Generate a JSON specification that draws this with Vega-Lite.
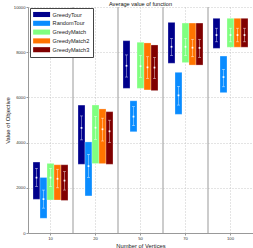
{
  "$schema": "https://vega.github.io/schema/vega-lite/v6.json",
  "autosize": "none",
  "width": 225,
  "height": 226,
  "padding": {"left": 28, "top": 7, "right": 0, "bottom": 15},
  "config": {
    "font": "Liberation Sans",
    "view": {"stroke": null},
    "axis": {"labelFont": "Liberation Sans", "titleFont": "Liberation Sans"}
  },
  "title": {"text": "Average value of function", "fontSize": 5.6, "fontWeight": "normal", "color": "#111", "offset": 0, "dy": 3, "font": "Liberation Sans"},
  "datasets": {
    "stats": [
      {"n": "10", "alg": "GreedyTour", "min": 1490, "max": 3140, "mean": 2450, "lo": 2060, "hi": 2860},
      {"n": "10", "alg": "RandomTour", "min": 650, "max": 2460, "mean": 1500, "lo": 1100, "hi": 1900},
      {"n": "10", "alg": "GreedyMatch", "min": 1460, "max": 3080, "mean": 2450, "lo": 2050, "hi": 2860},
      {"n": "10", "alg": "GreedyMatch2", "min": 1460, "max": 3020, "mean": 2400, "lo": 2000, "hi": 2820},
      {"n": "10", "alg": "GreedyMatch3", "min": 1440, "max": 3020, "mean": 2320, "lo": 1900, "hi": 2720},
      {"n": "20", "alg": "GreedyTour", "min": 3040, "max": 5660, "mean": 4650, "lo": 4120, "hi": 5180},
      {"n": "20", "alg": "RandomTour", "min": 1640, "max": 4030, "mean": 2960, "lo": 2460, "hi": 3480},
      {"n": "20", "alg": "GreedyMatch", "min": 3070, "max": 5660, "mean": 4660, "lo": 4140, "hi": 5160},
      {"n": "20", "alg": "GreedyMatch2", "min": 3070, "max": 5490, "mean": 4590, "lo": 4070, "hi": 5080},
      {"n": "20", "alg": "GreedyMatch3", "min": 3040, "max": 5370, "mean": 4500, "lo": 4000, "hi": 4990},
      {"n": "50", "alg": "GreedyTour", "min": 6400, "max": 8510, "mean": 7400, "lo": 6900, "hi": 7880},
      {"n": "50", "alg": "RandomTour", "min": 4480, "max": 5850, "mean": 5150, "lo": 4750, "hi": 5590},
      {"n": "50", "alg": "GreedyMatch", "min": 6400, "max": 8440, "mean": 7380, "lo": 6890, "hi": 7850},
      {"n": "50", "alg": "GreedyMatch2", "min": 6330, "max": 8410, "mean": 7330, "lo": 6840, "hi": 7800},
      {"n": "50", "alg": "GreedyMatch3", "min": 6300, "max": 8320, "mean": 7320, "lo": 6830, "hi": 7770},
      {"n": "70", "alg": "GreedyTour", "min": 7510, "max": 9320, "mean": 8240, "lo": 7850, "hi": 8610},
      {"n": "70", "alg": "RandomTour", "min": 5250, "max": 7110, "mean": 6090, "lo": 5660, "hi": 6490},
      {"n": "70", "alg": "GreedyMatch", "min": 7540, "max": 9290, "mean": 8240, "lo": 7850, "hi": 8610},
      {"n": "70", "alg": "GreedyMatch2", "min": 7430, "max": 9290, "mean": 8200, "lo": 7800, "hi": 8570},
      {"n": "70", "alg": "GreedyMatch3", "min": 7430, "max": 9290, "mean": 8190, "lo": 7770, "hi": 8570},
      {"n": "100", "alg": "GreedyTour", "min": 8170, "max": 9500, "mean": 8760, "lo": 8460, "hi": 9060},
      {"n": "100", "alg": "RandomTour", "min": 6210, "max": 7830, "mean": 6900, "lo": 6470, "hi": 7240},
      {"n": "100", "alg": "GreedyMatch", "min": 8220, "max": 9500, "mean": 8760, "lo": 8460, "hi": 9060},
      {"n": "100", "alg": "GreedyMatch2", "min": 8220, "max": 9500, "mean": 8760, "lo": 8460, "hi": 9060},
      {"n": "100", "alg": "GreedyMatch3", "min": 8220, "max": 9500, "mean": 8760, "lo": 8460, "hi": 9060}
    ],
    "seps": [{"n": "20"}, {"n": "50"}, {"n": "70"}, {"n": "100"}]
  },
  "layer": [
    {
      "data": {"name": "seps"},
      "mark": {"type": "rule", "color": "#999999", "strokeWidth": 1},
      "encoding": {
        "x": {"field": "n", "type": "ordinal", "bandPosition": 0, "scale": {"domain": ["10", "20", "50", "70", "100"], "paddingInner": 0, "paddingOuter": 0},
          "axis": {"title": "Number of Vertices", "titleFontSize": 5.8, "titleFontWeight": "normal", "titleColor": "#222", "titlePadding": 2,
            "labelFontSize": 4.2, "labelColor": "#333", "labelAngle": 0, "labelPadding": 1, "bandPosition": 0.5,
            "ticks": true, "tickSize": 2, "tickColor": "#999", "domainColor": "#999",
            "grid": true, "gridDash": [1, 2], "gridColor": "#bbbbbb", "gridWidth": 0.8}}
      }
    },
    {
      "data": {"name": "stats"},
      "mark": {"type": "bar", "stroke": "white", "strokeOpacity": 0.35, "strokeWidth": 0.8},
      "encoding": {
        "x": {"field": "n", "type": "ordinal"},
        "xOffset": {"field": "alg", "type": "nominal", "scale": {"domain": ["GreedyTour", "RandomTour", "GreedyMatch", "GreedyMatch2", "GreedyMatch3"], "paddingInner": 0, "paddingOuter": 0.714}},
        "y": {"field": "min", "type": "quantitative", "scale": {"domain": [0, 10000], "nice": false},
          "axis": {"title": "Value of Objective", "titleFontSize": 5.8, "titleFontWeight": "normal", "titleColor": "#222", "titlePadding": 3,
            "values": [0, 1000, 2000, 3000, 4000, 5000, 6000, 7000, 8000, 9000, 10000], "format": "d",
            "labelFontSize": 4.2, "labelColor": "#333", "labelPadding": 1,
            "ticks": true, "tickSize": 2, "tickColor": "#999", "domainColor": "#999",
            "grid": true, "gridDash": [1, 2], "gridColor": "#bbbbbb", "gridWidth": 0.8}},
        "y2": {"field": "max"},
        "color": {"field": "alg", "type": "nominal",
          "scale": {"domain": ["GreedyTour", "RandomTour", "GreedyMatch", "GreedyMatch2", "GreedyMatch3"], "range": ["#00008c", "#0a8cff", "#80ff80", "#ff7400", "#800000"]},
          "legend": {"title": null, "orient": "none", "legendX": 2, "legendY": 1,
            "symbolType": "M-2.5,-0.75H2.5V0.75H-2.5Z", "symbolSize": 46, "symbolOffset": 5.1, "symbolStrokeWidth": 0, "symbolOpacity": 1,
            "labelFontSize": 5.6, "labelColor": "#222", "labelOffset": 7.5, "labelFont": "Liberation Sans",
            "padding": 3, "rowPadding": 0.8, "strokeColor": "#444", "fillColor": "white", "cornerRadius": 0, "offset": 0}}
      }
    },
    {
      "data": {"name": "stats"},
      "mark": {"type": "rule", "color": "white", "opacity": 0.6, "strokeWidth": 0.7},
      "encoding": {
        "x": {"field": "n", "type": "ordinal"},
        "xOffset": {"field": "alg", "type": "nominal"},
        "y": {"field": "lo", "type": "quantitative"},
        "y2": {"field": "hi"}
      }
    },
    {
      "data": {"name": "stats"},
      "mark": {"type": "tick", "orient": "horizontal", "color": "white", "opacity": 0.6, "size": 3, "thickness": 0.7},
      "encoding": {
        "x": {"field": "n", "type": "ordinal"},
        "xOffset": {"field": "alg", "type": "nominal"},
        "y": {"field": "lo", "type": "quantitative"}
      }
    },
    {
      "data": {"name": "stats"},
      "mark": {"type": "tick", "orient": "horizontal", "color": "white", "opacity": 0.6, "size": 3, "thickness": 0.7},
      "encoding": {
        "x": {"field": "n", "type": "ordinal"},
        "xOffset": {"field": "alg", "type": "nominal"},
        "y": {"field": "hi", "type": "quantitative"}
      }
    },
    {
      "data": {"name": "stats"},
      "mark": {"type": "square", "color": "white", "opacity": 1, "size": 3},
      "encoding": {
        "x": {"field": "n", "type": "ordinal"},
        "xOffset": {"field": "alg", "type": "nominal"},
        "y": {"field": "mean", "type": "quantitative"}
      }
    }
  ]
}
